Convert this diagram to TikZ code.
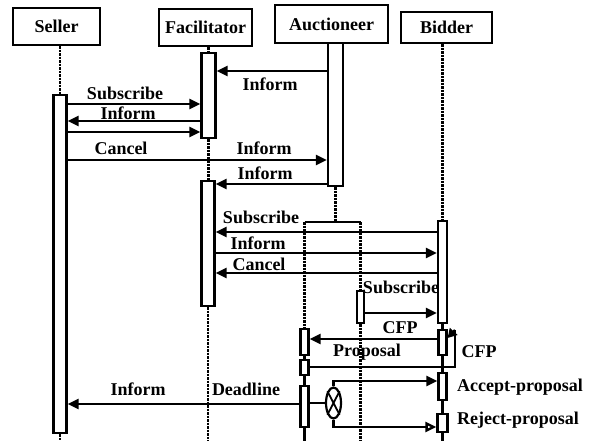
\documentclass[tikz,border=0pt]{standalone}
\usepackage{fontspec}
\newfontfamily\labfont{Liberation Serif}
\usetikzlibrary{arrows.meta,shapes.geometric}
\tikzset{
  hdr/.style={draw, line width=2.4pt, inner sep=0pt, font=\labfont\bfseries\fontsize{18}{18}\selectfont},
  actbar/.style={draw, fill=white, line width=2.2pt, inner sep=0pt},
  life/.style={line width=2.2pt, dash pattern=on 2.5pt off 1pt},
  solidlife/.style={line width=2.4pt},
  msg/.style={line width=2.4pt, -{Triangle[length=11pt,width=10pt]}},
  omsg/.style={line width=2.4pt, -{Triangle[open,length=11pt,width=10pt,fill=white]}},
  lbl/.style={inner sep=0pt, font=\labfont\bfseries\fontsize{18}{18}\selectfont}
}
\begin{document}
\begin{tikzpicture}[x=1pt,y=-1pt]
\useasboundingbox (0,0) rectangle (589,441);
\coordinate (bot) at (0,441);
% headers
\node[hdr, minimum width=87pt, minimum height=37pt] (sellerbox) at (56.5,26.5) {Seller};
\node[hdr, minimum width=93pt, minimum height=37pt] (facbox) at (205.5,27.5) {Facilitator};
\node[hdr, minimum width=113pt, minimum height=38pt] (aucbox) at (331.5,24) {Auctioneer};
\node[hdr, minimum width=91pt, minimum height=31pt] (bidbox) at (446.5,27.5) {Bidder};
% activation bars
\node[actbar, minimum width=13pt, minimum height=338pt] (seller) at (60,264) {};
\node[actbar, minimum width=14pt, minimum height=85pt] (fac1) at (208.5,95.5) {};
\node[actbar, minimum width=13pt, minimum height=125pt] (fac2) at (208,243.5) {};
\node[actbar, minimum width=15pt, minimum height=143pt] (auc) at (335.5,114.5) {};
\node[actbar, minimum width=9pt, minimum height=102pt] (bid1) at (442.5,272) {};
\node[actbar, minimum width=7pt, minimum height=32pt] (sub) at (360.5,307) {};
\node[actbar, minimum width=8pt, minimum height=26pt] (a1) at (304.5,342) {};
\node[actbar, minimum width=8pt, minimum height=15pt] (a2) at (304.5,367.5) {};
\node[actbar, minimum width=8pt, minimum height=41pt] (a3) at (304.5,406.5) {};
\node[actbar, minimum width=8pt, minimum height=25pt] (b2) at (442.5,342.5) {};
\node[actbar, minimum width=8pt, minimum height=27pt] (b3) at (442.5,386.5) {};
\node[actbar, minimum width=10pt, minimum height=18pt] (b4) at (442.5,423) {};
\node[draw, ellipse, fill=white, line width=2.2pt, minimum width=15pt, minimum height=31pt, inner sep=0pt] (xor) at (333.5,403) {};
\draw[line width=1.8pt] (xor.north west) -- (xor.south east) (xor.north east) -- (xor.south west);
% lifelines
\draw[life] (seller.north |- sellerbox.south) -- (seller.north);
\draw[life] (seller.south) -- (seller.south |- bot);
\draw[life] (fac1.north |- facbox.south) -- (fac1.north);
\draw[life] (fac1.south) -- (fac2.north -| fac1.south);
\draw[life] (fac2.south) -- (fac2.south |- bot);
\coordinate (brL) at (304.5,222);
\coordinate (brR) at (360.5,222);
\draw[life] (auc.south) -- (auc.south |- brL);
\draw[line width=2.4pt] (brL) -- (brR);
\draw[life] (brL) -- (a1.north);
\draw[life] (brR) -- (sub.north);
\draw[life] (sub.south) -- (sub.south |- bot);
\draw[solidlife] (a1.south) -- (a2.north) (a2.south) -- (a3.north) (a3.south) -- (a3.south |- bot);
\draw[life] (bid1.north |- bidbox.south) -- (bid1.north);
\draw[solidlife] (bid1.south) -- (b2.north) (b2.south) -- (b3.north) (b3.south) -- (b4.north) (b4.south) -- (b4.south |- bot);
% messages
\draw[msg] (auc.west |- 0,71) -- (fac1.east |- 0,71);
\node[lbl] (t1) at (270,84) {Inform};
\draw[msg] (seller.east |- 0,104) -- (fac1.west |- 0,104);
\node[lbl] (t2) at (125,93) {Subscribe};
\draw[msg] (fac1.west |- 0,121) -- (seller.east |- 0,121);
\node[lbl] (t3) at (128,113) {Inform};
\draw[msg] (seller.east |- 0,132) -- (fac1.west |- 0,132);
\node[lbl] (t4) at (121,148) {Cancel};
\draw[msg] (seller.east |- 0,160) -- (auc.west |- 0,160);
\node[lbl] (t5) at (264,148) {Inform};
\draw[msg] (auc.west |- 0,184) -- (fac2.east |- 0,184);
\node[lbl] (t6) at (265,173) {Inform};
\draw[msg] (bid1.west |- 0,232) -- (fac2.east |- 0,232);
\node[lbl] (t7) at (261,217) {Subscribe};
\draw[msg] (fac2.east |- 0,253) -- (bid1.west |- 0,253);
\node[lbl] (t8) at (258,243) {Inform};
\draw[msg] (bid1.west |- 0,273) -- (fac2.east |- 0,273);
\node[lbl] (t9) at (259,264) {Cancel};
\draw[msg] (sub.east |- 0,313) -- (bid1.west |- 0,313);
\node[lbl] (t10) at (401,287) {Subscribe};
\draw[msg] (b2.west |- 0,339) -- (a1.east |- 0,339);
\node[lbl] (t11) at (400,328) {CFP};
\node[lbl] (t12) at (367,352) {Proposal};
\coordinate (loopc) at (455,330);
\draw[line width=2.4pt] (a2.east |- 0,367) -| (loopc);
\draw[line width=2.4pt, -{Triangle[length=9pt,width=10pt]}] (loopc) -- (b2.east |- 0,338);
\node[lbl] (t13) at (479,352) {CFP};
\draw[msg] (a3.west |- 0,404) -- (seller.east |- 0,404);
\node[lbl] (t14) at (138,389) {Inform};
\node[lbl] (t15) at (246,389) {Deadline};
\draw[solidlife] (a3.east |- xor.west) -- (xor.west);
\draw[msg] (xor.north) |- (b3.west |- 0,381);
\draw[omsg] (xor.south) |- (b4.west |- 0,427);
\node[lbl, anchor=west] (t16) at (457,387) {Accept-proposal};
\node[lbl, anchor=west] (t17) at (457,420) {Reject-proposal};
\end{tikzpicture}
\end{document}
